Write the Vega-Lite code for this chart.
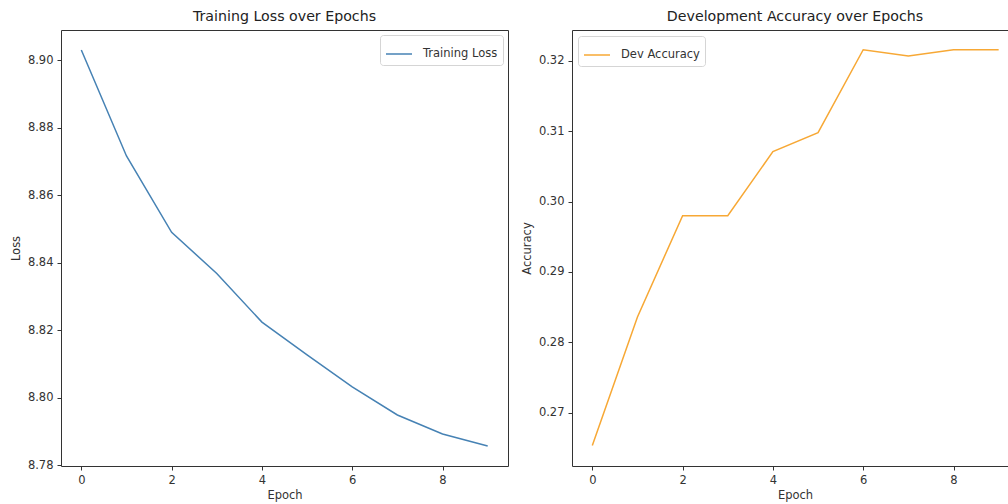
{
  "$schema": "https://vega.github.io/schema/vega-lite/v6.json",
  "background": "white",
  "padding": {"left": 9, "top": 9, "right": 0, "bottom": 0},
  "autosize": {"type": "pad"},
  "spacing": 11,
  "config": {
    "font": "DejaVu Sans",
    "view": {"stroke": "#333333", "strokeWidth": 1},
    "axis": {
      "grid": false, "domain": false, "tickColor": "#333333", "tickSize": 4,
      "labelFontSize": 11.5, "labelColor": "#333333", "labelFont": "DejaVu Sans",
      "titleFontSize": 11.5, "titleFontWeight": "normal", "titleColor": "#333333", "titleFont": "DejaVu Sans",
      "labelPadding": 4
    },
    "title": {"fontSize": 14.2, "fontWeight": "normal", "color": "#222222", "font": "DejaVu Sans", "offset": 6},
    "legend": {
      "strokeColor": "#d5d5d5", "fillColor": "white", "cornerRadius": 3, "padding": 5,
      "symbolType": "stroke", "symbolSize": 676, "symbolStrokeWidth": 1.5,
      "labelFontSize": 11.5, "labelColor": "#333333", "labelFont": "DejaVu Sans", "labelOffset": 10,
      "offset": 5
    }
  },
  "resolve": {"scale": {"color": "independent"}, "legend": {"color": "independent"}},
  "hconcat": [
    {
      "title": "Training Loss over Epochs",
      "width": 447,
      "height": 436,
      "data": {"values": [
        {"epoch": 0, "loss": 8.903, "series": "Training Loss"},
        {"epoch": 1, "loss": 8.8716, "series": "Training Loss"},
        {"epoch": 2, "loss": 8.849, "series": "Training Loss"},
        {"epoch": 3, "loss": 8.8368, "series": "Training Loss"},
        {"epoch": 4, "loss": 8.8224, "series": "Training Loss"},
        {"epoch": 5, "loss": 8.8127, "series": "Training Loss"},
        {"epoch": 6, "loss": 8.8032, "series": "Training Loss"},
        {"epoch": 7, "loss": 8.7949, "series": "Training Loss"},
        {"epoch": 8, "loss": 8.7893, "series": "Training Loss"},
        {"epoch": 9, "loss": 8.7857, "series": "Training Loss"}
      ]},
      "mark": {"type": "line", "strokeWidth": 1.5, "clip": true},
      "encoding": {
        "x": {"field": "epoch", "type": "quantitative",
              "scale": {"domain": [-0.45, 9.45], "nice": false, "zero": false},
              "axis": {"values": [0, 2, 4, 6, 8], "title": "Epoch", "titlePadding": 4}},
        "y": {"field": "loss", "type": "quantitative",
              "scale": {"domain": [8.7798, 8.9089], "nice": false, "zero": false},
              "axis": {"values": [8.78, 8.8, 8.82, 8.84, 8.86, 8.88, 8.9], "format": ".2f", "title": "Loss", "titlePadding": 6}},
        "color": {"field": "series", "type": "nominal",
                  "scale": {"domain": ["Training Loss"], "range": ["#4682b4"]},
                  "legend": {"title": null, "orient": "top-right"}}
      }
    },
    {
      "title": {"text": "Development Accuracy over Epochs", "dx": 5},
      "width": 436,
      "height": 436,
      "data": {"values": [
        {"epoch": 0, "acc": 0.2653, "series": "Dev Accuracy"},
        {"epoch": 1, "acc": 0.2836, "series": "Dev Accuracy"},
        {"epoch": 2, "acc": 0.298, "series": "Dev Accuracy"},
        {"epoch": 3, "acc": 0.298, "series": "Dev Accuracy"},
        {"epoch": 4, "acc": 0.3071, "series": "Dev Accuracy"},
        {"epoch": 5, "acc": 0.3098, "series": "Dev Accuracy"},
        {"epoch": 6, "acc": 0.3216, "series": "Dev Accuracy"},
        {"epoch": 7, "acc": 0.3207, "series": "Dev Accuracy"},
        {"epoch": 8, "acc": 0.3216, "series": "Dev Accuracy"},
        {"epoch": 9, "acc": 0.3216, "series": "Dev Accuracy"}
      ]},
      "mark": {"type": "line", "strokeWidth": 1.5, "clip": true},
      "encoding": {
        "x": {"field": "epoch", "type": "quantitative",
              "scale": {"domain": [-0.45, 9.207], "nice": false, "zero": false},
              "axis": {"values": [0, 2, 4, 6, 8], "title": "Epoch", "titlePadding": 4, "titleX": 223}},
        "y": {"field": "acc", "type": "quantitative",
              "scale": {"domain": [0.2624, 0.3244], "nice": false, "zero": false},
              "axis": {"values": [0.27, 0.28, 0.29, 0.3, 0.31, 0.32], "format": ".2f", "title": "Accuracy", "titlePadding": 6}},
        "color": {"field": "series", "type": "nominal",
                  "scale": {"domain": ["Dev Accuracy"], "range": ["#f7a835"]},
                  "legend": {"title": null, "orient": "top-left", "offset": 6}}
      }
    }
  ]
}
